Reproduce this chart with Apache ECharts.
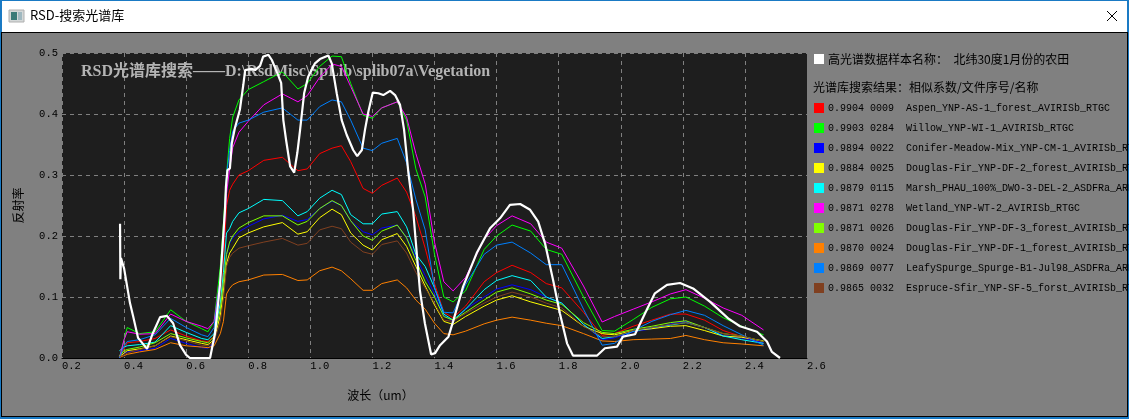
<!DOCTYPE html>
<html>
<head>
<meta charset="utf-8">
<title>RSD-搜索光谱库</title>
<script src="https://cdn.jsdelivr.net/npm/echarts@6/dist/echarts.min.js"></script>
<style>
  html, body { margin: 0; padding: 0; background: #1a7ac4; overflow: hidden; }
  #main { width: 1129px; height: 419px; }
</style>
</head>
<body>
<div id="main"></div>
<script>
// wavelength grid shared by the library spectra (um)
const wave = [0.385, 0.40, 0.41, 0.45, 0.50, 0.55, 0.60, 0.65, 0.67, 0.69, 0.71, 0.72, 0.73, 0.74, 0.75, 0.77, 0.80, 0.85, 0.91, 0.96, 0.99, 1.03, 1.07, 1.10, 1.13, 1.17, 1.20, 1.23, 1.28, 1.31, 1.34, 1.37, 1.40, 1.43, 1.46, 1.50, 1.56, 1.60, 1.65, 1.71, 1.76, 1.81, 1.88, 1.94, 1.98, 2.04, 2.10, 2.16, 2.21, 2.27, 2.33, 2.39, 2.46];

const aspen = [0, .015, .025, .027, .032, .046, .036, .028, .027, .035, .09, .15, .25, .275, .285, .30, .307, .324, .329, .307, .31, .335, .344, .348, .322, .278, .27, .283, .295, .272, .232, .18, .122, .075, .066, .085, .125, .14, .152, .14, .122, .115, .075, .037, .04, .052, .062, .072, .072, .062, .045, .035, .024];
const willow = [0, .03, .05, .04, .043, .079, .06, .048, .043, .06, .15, .22, .30, .36, .395, .423, .44, .453, .469, .441, .45, .478, .495, .494, .45, .398, .393, .41, .42, .39, .31, .264, .17, .10, .092, .11, .178, .20, .218, .208, .178, .17, .10, .045, .044, .063, .083, .097, .10, .085, .066, .052, .038];
const conifer = [0, .008, .01, .012, .016, .032, .024, .017, .016, .025, .08, .125, .17, .188, .197, .207, .216, .228, .234, .224, .227, .245, .257, .25, .225, .207, .202, .213, .218, .198, .165, .135, .105, .07, .06, .08, .10, .113, .12, .112, .10, .09, .055, .03, .033, .043, .048, .056, .06, .05, .037, .033, .025];
const firDF2 = [.002, .008, .012, .015, .02, .036, .03, .024, .022, .03, .07, .11, .155, .172, .18, .197, .205, .215, .222, .203, .207, .23, .244, .235, .205, .185, .177, .194, .204, .183, .15, .118, .087, .06, .055, .068, .085, .095, .102, .092, .085, .078, .052, .04, .038, .045, .048, .052, .053, .045, .036, .034, .028];
const marsh = [.012, .018, .02, .022, .026, .053, .042, .032, .03, .04, .09, .14, .205, .212, .224, .238, .245, .26, .258, .233, .24, .262, .275, .268, .235, .22, .22, .236, .24, .215, .17, .15, .115, .072, .062, .08, .112, .127, .135, .127, .10, .09, .055, .032, .035, .044, .05, .054, .058, .05, .036, .03, .024];
const wetland = [0, .03, .043, .039, .04, .072, .06, .052, .048, .06, .13, .19, .27, .31, .345, .37, .388, .415, .433, .42, .43, .46, .482, .478, .445, .40, .396, .41, .42, .395, .335, .285, .19, .125, .11, .132, .195, .217, .233, .22, .19, .18, .118, .059, .068, .08, .092, .105, .112, .098, .082, .07, .046];
const firDF3 = [.003, .012, .014, .018, .025, .04, .033, .027, .025, .035, .08, .125, .17, .19, .20, .213, .222, .233, .233, .218, .224, .245, .258, .25, .225, .20, .193, .208, .218, .197, .16, .125, .10, .068, .062, .075, .095, .108, .115, .105, .095, .088, .058, .042, .04, .047, .052, .058, .061, .05, .04, .036, .027];
const firDF1 = [.001, .004, .006, .01, .014, .025, .02, .018, .017, .02, .04, .06, .105, .114, .12, .125, .128, .136, .137, .127, .128, .143, .149, .143, .13, .111, .111, .122, .128, .115, .095, .08, .057, .04, .038, .044, .056, .062, .067, .062, .057, .053, .04, .028, .027, .03, .031, .032, .037, .03, .025, .023, .02];
const spurge = [0, .02, .027, .03, .038, .065, .05, .038, .035, .05, .13, .20, .30, .34, .372, .385, .39, .403, .41, .39, .39, .412, .423, .42, .39, .344, .34, .352, .36, .32, .26, .21, .115, .075, .074, .12, .17, .185, .19, .172, .153, .153, .08, .021, .024, .045, .06, .071, .078, .07, .053, .038, .021];
const espruce = [.002, .005, .008, .014, .02, .035, .028, .021, .02, .027, .06, .095, .15, .165, .172, .18, .184, .19, .196, .185, .188, .21, .216, .212, .19, .174, .17, .186, .192, .172, .14, .115, .09, .062, .06, .073, .09, .10, .108, .10, .09, .082, .052, .035, .035, .045, .05, .055, .058, .05, .04, .036, .027];

// the hyperspectral sample has its own wavelengths
const sampleWave = [0.387, 0.388, 0.39, 0.40, 0.406, 0.419, 0.429, 0.445, 0.474, 0.493, 0.516, 0.538, 0.558, 0.58, 0.60, 0.612, 0.677, 0.693, 0.709, 0.722, 0.725, 0.728, 0.733, 0.741, 0.747, 0.757, 0.773, 0.779, 0.784, 0.79, 0.811, 0.822, 0.838, 0.848, 0.865, 0.876, 0.892, 0.906, 0.913, 0.922, 0.935, 0.948, 0.958, 0.967, 0.98, 0.993, 1.015, 1.031, 1.058, 1.069, 1.085, 1.101, 1.117, 1.138, 1.151, 1.166, 1.176, 1.187, 1.201, 1.219, 1.235, 1.257, 1.273, 1.289, 1.302, 1.316, 1.331, 1.353, 1.369, 1.389, 1.402, 1.418, 1.445, 1.46, 1.492, 1.536, 1.579, 1.611, 1.643, 1.676, 1.708, 1.734, 1.756, 1.782, 1.804, 1.827, 1.846, 1.924, 1.949, 1.988, 2.007, 2.046, 2.078, 2.11, 2.149, 2.191, 2.233, 2.288, 2.346, 2.384, 2.439, 2.471, 2.487, 2.513];
const sample = [.22, .129, .164, .147, .144, .09, .069, .033, .015, .041, .067, .069, .057, .021, .005, 0, 0, .041, .12, .22, .243, .28, .308, .311, .352, .377, .407, .41, .4475, .472, .474, .472, .479, .494, .497, .4885, .469, .451, .39, .357, .314, .304, .336, .374, .434, .461, .483, .49, .496, .483, .434, .39, .366, .341, .331, .341, .374, .404, .435, .434, .431, .438, .431, .415, .374, .303, .243, .111, .057, .006, .008, .021, .035, .06, .117, .172, .2126, .229, .251, .2525, .243, .2235, .188, .128, .073, .024, .004, .004, .016, .0186, .035, .039, .073, .106, .12, .123, .114, .092, .065, .052, .043, .027, .01, 0];

const coefs = ["0.9904", "0.9903", "0.9894", "0.9884", "0.9879", "0.9871", "0.9871", "0.9870", "0.9869", "0.9865"];
const fileIds = ["0009", "0284", "0022", "0025", "0115", "0278", "0026", "0024", "0077", "0032"];
const names = ["Aspen_YNP-AS-1_forest_AVIRISb_RTGC", "Willow_YNP-WI-1_AVIRISb_RTGC", "Conifer-Meadow-Mix_YNP-CM-1_AVIRISb_RTGC", "Douglas-Fir_YNP-DF-2_forest_AVIRISb_RTGC", "Marsh_PHAU_100%_DWO-3-DEL-2_ASDFRa_AREF", "Wetland_YNP-WT-2_AVIRISb_RTGC", "Douglas-Fir_YNP-DF-3_forest_AVIRISb_RTGC", "Douglas-Fir_YNP-DF-1_forest_AVIRISb_RTGC", "LeafySpurge_Spurge-B1-Jul98_ASDFRa_AREF", "Espruce-Sfir_YNP-SF-5_forst_AVIRISb_RTGC"];
const colors = ["#ff0000", "#00ff00", "#0000ff", "#ffff00", "#00ffff", "#ff00ff", "#80ff00", "#ff8000", "#0080ff", "#804020"];
const spectra = [aspen, willow, conifer, firDF2, marsh, wetland, firDF3, firDF1, spurge, espruce];

const sampleName = "高光谱数据样本名称：  北纬30度1月份的农田";
const resultHead = "光谱库搜索结果：相似系数/文件序号/名称";
const chartTitle = "RSD光谱库搜索——D:\\RsdMisc\\SpLib\\splib07a\\Vegetation";

const monoFont = '"Liberation Mono", "DejaVu Sans Mono", monospace';
const cjkFont = '"Noto Sans CJK SC", sans-serif';

let labels = names.map((n, i) => coefs[i] + " " + fileIds[i] + "  " + n);
let series = spectra.map((s, i) => ({
  name: labels[i],
  type: "line",
  color: colors[i],
  data: s.map((v, j) => [wave[j], v]),
  showSymbol: false,
  symbol: "none",
  lineStyle: { width: 1 },
  z: 3
}));
series.push({
  name: sampleName,
  type: "line",
  color: "#ffffff",
  data: sample.map((v, j) => [sampleWave[j], v]),
  showSymbol: false,
  symbol: "none",
  lineStyle: { width: 2.2 },
  z: 4
});

let myChart = echarts.init(document.getElementById("main"));
myChart.setOption({
  animation: false,
  backgroundColor: "#1a7ac4",
  title: {
    text: chartTitle,
    left: 81,
    top: 64,
    padding: 0,
    z: 1,
    textStyle: { color: "#b4b4b4", fontFamily: '"Liberation Serif", "Noto Sans CJK SC", serif', fontWeight: "bold", fontSize: 16 }
  },
  grid: { left: 62, right: 322, top: 53, bottom: 61, show: true, backgroundColor: "#1e1e1e", borderWidth: 0, z: 0 },
  xAxis: {
    type: "value",
    min: 0.2,
    max: 2.6,
    interval: 0.2,
    name: "波长（um）",
    nameLocation: "middle",
    nameGap: 31,
    nameTextStyle: { color: "#000", fontFamily: cjkFont, fontSize: 12, padding: [0, 108, 0, 0] },
    axisLine: { show: true, onZero: false, lineStyle: { color: "#000", width: 1 } },
    axisTick: { show: false },
    axisLabel: { color: "#000", fontFamily: monoFont, fontSize: 10.5, align: "left", margin: 3, formatter: v => v.toFixed(1) },
    splitLine: { show: true, lineStyle: { color: "#808080", type: [4, 4], width: 1 } }
  },
  yAxis: {
    type: "value",
    min: 0,
    max: 0.5,
    interval: 0.1,
    name: "反射率",
    nameLocation: "middle",
    nameGap: 38,
    nameTextStyle: { color: "#000", fontFamily: cjkFont, fontSize: 12 },
    axisLine: { show: false },
    axisTick: { show: false },
    axisLabel: { color: "#000", fontFamily: monoFont, fontSize: 10.5, margin: 4, padding: [3, 0, 0, 0], formatter: v => v.toFixed(1) },
    splitLine: { show: true, lineStyle: { color: "#808080", type: [4, 4], width: 1 } }
  },
  legend: [
    {
      data: [sampleName],
      left: 814,
      top: 53,
      padding: 0,
      icon: "rect",
      itemWidth: 10,
      itemHeight: 10,
      itemGap: 10,
      selectedMode: false,
      textStyle: { color: "#000", fontFamily: cjkFont, fontSize: 12, padding: [0, 0, 0, -1] }
    },
    {
      data: labels,
      orient: "vertical",
      left: 814,
      top: 102,
      padding: 0,
      icon: "rect",
      itemWidth: 10,
      itemHeight: 10,
      itemGap: 8,
      selectedMode: false,
      textStyle: { color: "#000", fontFamily: monoFont, fontSize: 10, lineHeight: 12, padding: [0, 0, 0, -1] }
    }
  ],
  graphic: {
    elements: [
      // window frame
      { type: "rect", z: -10, shape: { x: 2, y: 1, width: 1125, height: 31 }, style: { fill: "#ffffff" } },
      { type: "rect", z: -10, shape: { x: 1, y: 32, width: 1127, height: 385 }, style: { fill: "#000000" } },
      { type: "rect", z: -9, shape: { x: 2, y: 33, width: 1125, height: 383 }, style: { fill: "#808080" } },
      // window icon
      { type: "rect", z: -8, shape: { x: 9, y: 10, width: 15, height: 12 }, style: { fill: "#d4d8d8", stroke: "#b0b0b0", lineWidth: 1 } },
      { type: "rect", z: -7, shape: { x: 11, y: 12, width: 6, height: 8 }, style: { fill: "#3a7a78" } },
      { type: "rect", z: -7, shape: { x: 18, y: 12, width: 4, height: 8 }, style: { fill: "#9fb8c0" } },
      { type: "text", z: -7, x: 30, y: 9, style: { text: "RSD-搜索光谱库", fill: "#000", font: '13px "Noto Sans CJK SC", sans-serif' } },
      // close button
      { type: "line", z: -7, shape: { x1: 1107, y1: 11, x2: 1117, y2: 21 }, style: { stroke: "#000", lineWidth: 1 } },
      { type: "line", z: -7, shape: { x1: 1117, y1: 11, x2: 1107, y2: 21 }, style: { stroke: "#000", lineWidth: 1 } },
      { type: "text", x: 813, y: 81, style: { text: resultHead, fill: "#000", font: '12px "Noto Sans CJK SC", sans-serif' } }
    ]
  },
  series: series
});
</script>
</body>
</html>
